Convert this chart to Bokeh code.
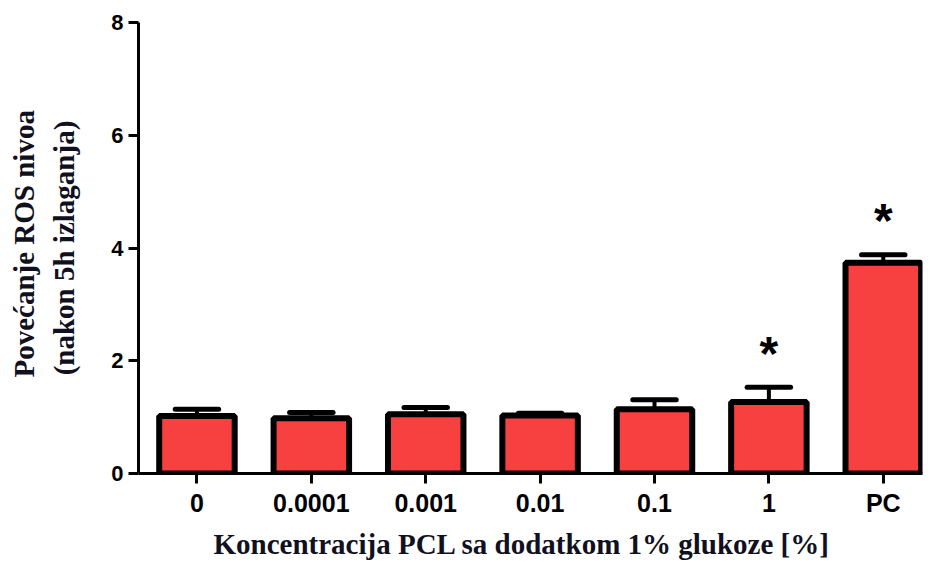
from bokeh.plotting import figure
from bokeh.models import Range1d, FixedTicker, Title, ColumnDataSource
from bokeh.core.properties import value
from bokeh.embed import file_html
from bokeh.resources import INLINE

categories = ["0", "0.0001", "0.001", "0.01", "0.1", "1", "PC"]
means = [1.02, 0.98, 1.05, 1.03, 1.14, 1.27, 3.74]
errors = [0.12, 0.10, 0.12, 0.04, 0.17, 0.26, 0.14]
significant = [False, False, False, False, False, True, True]
y_ticks = [0, 2, 4, 6, 8]

x_label = "Koncentracija PCL sa dodatkom 1% glukoze [%]"
y_label_1 = "Povećanje ROS nivoa"
y_label_2 = "(nakon 5h izlaganja)"

xs = list(range(len(categories)))
tops = [m + e for m, e in zip(means, errors)]
cap_half = 0.19

src = ColumnDataSource(dict(
    x=xs, top=means, etop=tops,
    cx0=[x - cap_half for x in xs], cx1=[x + cap_half for x in xs],
))
sig_src = ColumnDataSource(dict(
    x=[x for x, s in zip(xs, significant) if s],
    y=[t for t, s in zip(tops, significant) if s],
    t=["*" for s in significant if s],
))

p = figure(width=927, height=565, output_backend="svg", toolbar_location=None,
           x_range=Range1d(-0.511, 6.343), y_range=Range1d(0, 8),
           min_border_left=138, min_border_right=5,
           min_border_top=22, min_border_bottom=92)
p.title.visible = False
p.outline_line_color = None
p.xgrid.visible = False
p.ygrid.visible = False
p.background_fill_color = "white"
p.border_fill_color = "white"

p.vbar(x="x", top="top", bottom=0, width=0.66, source=src,
       fill_color="#F74040", line_color="black", line_width=6)
p.segment(x0="x", y0="top", x1="x", y1="etop", source=src,
          line_color="black", line_width=4)
p.segment(x0="cx0", y0="etop", x1="cx1", y1="etop", source=src,
          line_color="black", line_width=5, line_cap="round")
p.text(x="x", y="y", text="t", source=sig_src, text_align="center",
       text_baseline="alphabetic", y_offset=-34,
       text_font=value("Liberation Sans"), text_font_size="48px",
       text_font_style="bold", text_color="black")

for ax in (p.xaxis[0], p.yaxis[0]):
    ax.axis_line_width = 3
    ax.axis_line_color = "black"
    ax.major_tick_line_width = 3
    ax.major_tick_line_color = "black"
    ax.major_tick_in = 0
    ax.major_tick_out = 10
    ax.minor_tick_line_color = None
    ax.major_label_text_font = "Liberation Sans"
    ax.major_label_text_font_style = "bold"
    ax.major_label_text_color = "black"
    ax.major_label_standoff = 5

p.yaxis.ticker = FixedTicker(ticks=y_ticks)
p.yaxis.major_label_text_font_size = "22px"
p.yaxis.axis_label = y_label_2
p.yaxis.axis_label_standoff = 28
p.yaxis.axis_label_text_font = "Liberation Serif"
p.yaxis.axis_label_text_font_size = "29px"
p.yaxis.axis_label_text_font_style = "bold"
p.yaxis.axis_label_text_color = "#101020"

p.xaxis.ticker = FixedTicker(ticks=xs)
p.xaxis.major_label_overrides = {i: c for i, c in zip(xs, categories)}
p.xaxis.major_label_text_font_size = "25px"

t1 = Title(text=y_label_1, align="left", offset=96, standoff=11,
           text_font="Liberation Serif", text_font_size="29px",
           text_font_style="bold", text_color="#101020")
p.add_layout(t1, "left")

tx = Title(text=x_label, align="left", offset=75, standoff=12,
           text_font="Liberation Serif", text_font_size="29px",
           text_font_style="bold", text_color="#101020")
p.add_layout(tx, "below")

open("out.html", "w").write(file_html(p, INLINE))
